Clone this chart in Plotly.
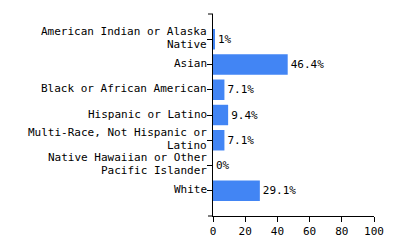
import plotly.graph_objects as go

categories = [
    "American Indian or Alaska<br>Native",
    "Asian",
    "Black or African American",
    "Hispanic or Latino",
    "Multi-Race, Not Hispanic or<br>Latino",
    "Native Hawaiian or Other<br>Pacific Islander",
    "White",
]
values = [1, 46.4, 7.1, 9.4, 7.1, 0, 29.1]
labels = ["1%", "46.4%", "7.1%", "9.4%", "7.1%", "0%", "29.1%"]
x_ticks = [0, 20, 40, 60, 80, 100]

FONT = "DejaVu Sans Mono"

fig = go.Figure(
    go.Bar(
        y=list(range(len(categories))),
        x=values,
        orientation="h",
        marker=dict(color="#4285F4", line=dict(width=0)),
        text=labels,
        textposition="outside",
        cliponaxis=False,
        textfont=dict(family=FONT, size=11, color="#000000"),
    )
)

# category labels as annotations, one per line, to get tight line spacing
annotations = []
for i, cat in enumerate(categories):
    lines = cat.split("<br>")
    if len(lines) == 1:
        shifts = [1]
    else:
        shifts = [8, -5]
    for line, s in zip(lines, shifts):
        annotations.append(dict(
            text=line, xref="paper", yref="y", x=0, y=i,
            xanchor="right", yanchor="middle", xshift=-5, yshift=s,
            borderpad=0,
            showarrow=False, font=dict(family=FONT, size=11, color="#000000"),
        ))

fig.update_layout(
    width=400,
    height=250,
    margin=dict(l=213, r=26, t=14, b=29),
    paper_bgcolor="white",
    plot_bgcolor="white",
    bargap=0.19,
    showlegend=False,
    font=dict(family=FONT, size=11, color="#000000"),
    xaxis=dict(
        range=[0, 100],
        tickvals=x_ticks,
        ticktext=[str(v) for v in x_ticks],
        showgrid=False,
        zeroline=False,
        showline=True,
        linecolor="#000000",
        linewidth=1,
        ticks="outside",
        ticklen=5,
        tickcolor="#000000",
        tickfont=dict(family=FONT, size=11, color="#000000"),
    ),
    yaxis=dict(
        range=[7, -1],
        tickvals=list(range(len(categories))),
        showticklabels=False,
        showgrid=False,
        zeroline=False,
        showline=True,
        linecolor="#000000",
        linewidth=1,
        ticks="outside",
        ticklen=5,
        tickcolor="#000000",
    ),
    annotations=annotations,
    shapes=[
        dict(type="line", xref="paper", yref="paper", x0=-0.031, x1=0, y0=1, y1=1,
             line=dict(color="#000000", width=1)),
        dict(type="line", xref="paper", yref="paper", x0=-0.031, x1=0, y0=0, y1=0,
             line=dict(color="#000000", width=1)),
    ],
)

fig.write_html("out.html")
